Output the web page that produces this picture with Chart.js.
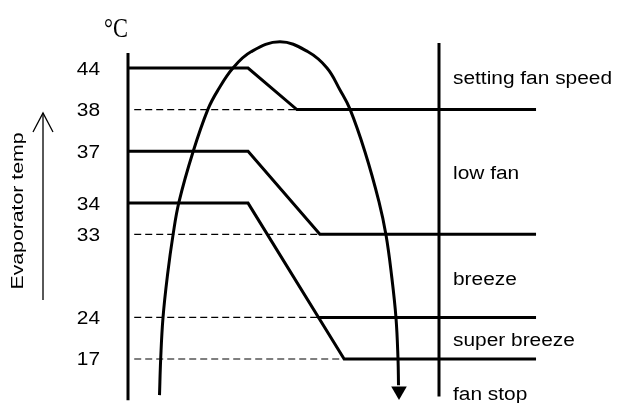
<!DOCTYPE html>
<html>
<head>
<meta charset="utf-8">
<script src="https://cdn.jsdelivr.net/npm/chart.js@4"></script>
<style>
  body { margin: 0; background: #fff; }
  #chart { display: block; }
</style>
</head>
<body>
<canvas id="chart" width="617" height="403"></canvas>
<script>
// threshold temperatures (deg C) and where each sits on the diagram's vertical scale
var tempLabels = [44, 38, 37, 34, 33, 24, 17];
var tempLevels = [7, 6, 5, 3.75, 3, 1, 0];

// the three falling switch lines: start temp -> end temp, ramp ends at x
var stepFrom = [44, 37, 34];
var stepTo = [38, 33, 17];
var rampEndX = [54.3, 61.7, 69.5];
var holdEndX = 38.6;
var lineEndX = 131.2;

// dashed guide lines from the axis
var dashTemps = [38, 33, 24, 17];
var dashEndX = [54.3, 61.7, 61, 69.5];
var soloTemp = 24; // solid part of the 24 line
var soloStartX = 61;

// zone names on the right
var zoneNames = ["setting fan speed", "low fan", "breeze", "super breeze", "fan stop"];

// the airflow arc (time axis x, level y)
var arcX = [10.13, 10.51, 11.25, 12.7, 14.47, 16.4, 20.9, 25.72, 28.94, 33.76, 39.55, 48.87,
            57.88, 63.99, 68.17, 71.38, 76.21, 80.71, 82.96, 84.73, 86.17, 86.82, 86.98];
var arcY = [-0.87, 0, 0.99, 2.02, 2.98, 3.78, 4.98, 6.01, 6.47, 7.0, 7.39, 7.63,
            7.39, 7.0, 6.47, 6.01, 4.98, 3.78, 2.98, 2.02, 0.99, 0, -0.63];

function lvl(t) {
  return tempLevels[tempLabels.indexOf(t)];
}

var black = "#000";
var datasets = [];

// axis and divider
datasets.push({ data: [{ x: 0, y: 7.36 }, { x: 0, y: -0.99 }], borderWidth: 3 });
datasets.push({ data: [{ x: 100, y: 7.6 }, { x: 100, y: -0.9 }], borderWidth: 3 });

stepFrom.forEach(function (t, i) {
  datasets.push({
    data: [
      { x: 0, y: lvl(t) },
      { x: holdEndX, y: lvl(t) },
      { x: rampEndX[i], y: lvl(stepTo[i]) },
      { x: lineEndX, y: lvl(stepTo[i]) }
    ],
    borderWidth: 3
  });
});

datasets.push({ data: [{ x: soloStartX, y: lvl(soloTemp) }, { x: lineEndX, y: lvl(soloTemp) }], borderWidth: 3 });

dashTemps.forEach(function (t, i) {
  datasets.push({
    data: [{ x: 2, y: lvl(t) }, { x: dashEndX[i], y: lvl(t) }],
    borderWidth: 1.2,
    borderDash: [7, 4]
  });
});

// arc
datasets.push({
  data: arcX.map(function (x, i) { return { x: x, y: arcY[i] }; }),
  borderWidth: 3,
  tension: 0.4
});
// arrow head
datasets.push({
  data: [{ x: 87.14, y: -0.77 }],
  showLine: false,
  pointStyle: "triangle",
  pointRadius: 9,
  pointRotation: 180,
  pointBackgroundColor: black,
  pointBorderWidth: 0
});

// "Evaporator temp" arrow
datasets.push({ data: [{ x: -27.33, y: 5.92 }, { x: -27.33, y: 1.42 }], borderWidth: 1.3 });
datasets.push({ data: [{ x: -30.55, y: 5.46 }, { x: -27.33, y: 5.92 }, { x: -24.12, y: 5.46 }], borderWidth: 1.3 });

datasets.forEach(function (d) {
  d.showLine = d.showLine !== false;
  d.borderColor = black;
  d.fill = false;
  if (d.pointRadius === undefined) d.pointRadius = 0;
});

function txt(ctx, s, x, y, font, sx, align, rot) {
  ctx.save();
  ctx.translate(x, y);
  if (rot) ctx.rotate(rot);
  ctx.scale(sx, 1);
  ctx.font = font;
  ctx.fillStyle = black;
  ctx.textAlign = align;
  ctx.textBaseline = "alphabetic";
  ctx.fillText(s, 0, 0);
  ctx.restore();
}

var labelsPlugin = {
  id: "labels",
  afterDatasetsDraw: function (chart) {
    var ctx = chart.ctx;
    var xs = chart.scales.x, ys = chart.scales.y;
    var sans = "18px 'Liberation Sans', Arial, sans-serif";
    tempLabels.forEach(function (t, i) {
      txt(ctx, String(t), xs.getPixelForValue(0) - 28, ys.getPixelForValue(tempLevels[i]) + 6.5, sans, 1.16, "right");
    });
    var zoneLv = [6.8, 4.5, 1.95, 0.5, -0.8];
    zoneNames.forEach(function (n, i) {
      txt(ctx, n, xs.getPixelForValue(100) + 14, ys.getPixelForValue(zoneLv[i]) + 7.5, sans, 1.16, "left");
    });
    txt(ctx, "°C", 104, 37, "28px 'Liberation Serif', serif", 0.8, "left");
    txt(ctx, "Evaporator temp", 22.5, 211, "17px 'Liberation Sans', Arial, sans-serif", 1.25, "center", -Math.PI / 2);
  }
};

new Chart(document.getElementById("chart"), {
  type: "scatter",
  data: { datasets: datasets },
  options: {
    responsive: false,
    animation: false,
    layout: { padding: 0, autoPadding: false },
    plugins: { legend: { display: false }, tooltip: { enabled: false } },
    scales: {
      x: { type: "linear", display: false, min: -41.158, max: 157.235 },
      y: { type: "linear", display: false, min: -1.0585, max: 8.636 }
    }
  },
  plugins: [labelsPlugin]
});
</script>
</body>
</html>
